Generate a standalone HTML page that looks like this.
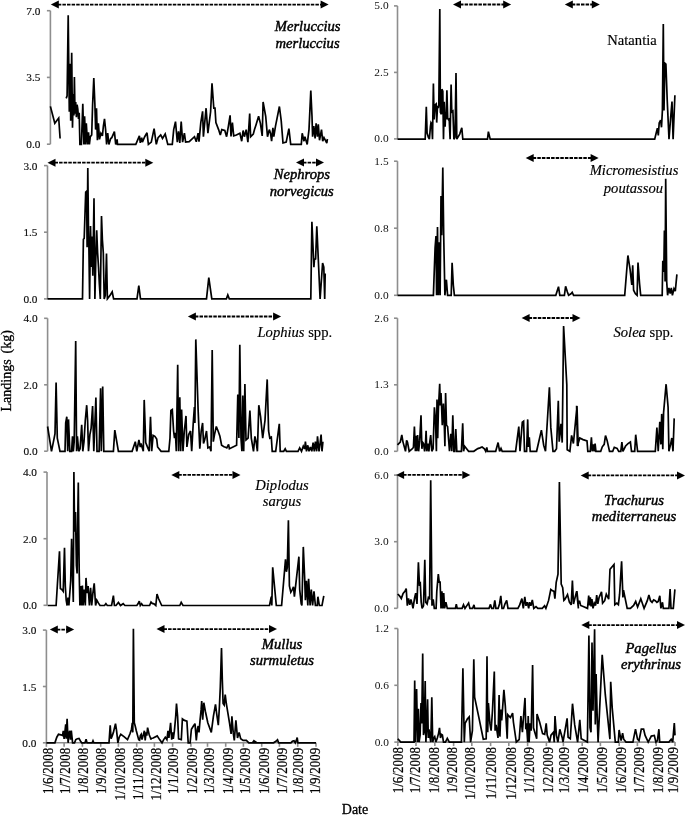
<!DOCTYPE html><html><head><meta charset="utf-8"><style>html,body{margin:0;padding:0;background:#fff;overflow:hidden}svg{display:block;will-change:transform}</style></head><body><svg width="685" height="815" viewBox="0 0 685 815">
<rect width="685" height="815" fill="#fff"/>
<g stroke="#8e8e8e" stroke-width="1.6" fill="none"><line x1="50.4" y1="10.7" x2="50.4" y2="144.2"/><line x1="46.9" y1="10.7" x2="50.4" y2="10.7"/><line x1="46.9" y1="77.4" x2="50.4" y2="77.4"/><line x1="46.9" y1="144.2" x2="50.4" y2="144.2"/><line x1="47.5" y1="165.6" x2="47.5" y2="298.9"/><line x1="44.0" y1="165.6" x2="47.5" y2="165.6"/><line x1="44.0" y1="232.2" x2="47.5" y2="232.2"/><line x1="44.0" y1="298.9" x2="47.5" y2="298.9"/><line x1="47.6" y1="318.3" x2="47.6" y2="451.2"/><line x1="44.1" y1="318.3" x2="47.6" y2="318.3"/><line x1="44.1" y1="384.8" x2="47.6" y2="384.8"/><line x1="44.1" y1="451.2" x2="47.6" y2="451.2"/><line x1="47.0" y1="472.1" x2="47.0" y2="605.3"/><line x1="43.5" y1="472.1" x2="47.0" y2="472.1"/><line x1="43.5" y1="538.7" x2="47.0" y2="538.7"/><line x1="43.5" y1="605.3" x2="47.0" y2="605.3"/><line x1="46.4" y1="630.1" x2="46.4" y2="742.8"/><line x1="42.9" y1="630.1" x2="46.4" y2="630.1"/><line x1="42.9" y1="686.5" x2="46.4" y2="686.5"/><line x1="42.9" y1="742.8" x2="46.4" y2="742.8"/><line x1="46.4" y1="742.8" x2="316.0" y2="742.8"/><line x1="46.4" y1="742.8" x2="46.4" y2="746.8"/><line x1="64.1" y1="742.8" x2="64.1" y2="746.8"/><line x1="82.4" y1="742.8" x2="82.4" y2="746.8"/><line x1="100.7" y1="742.8" x2="100.7" y2="746.8"/><line x1="118.4" y1="742.8" x2="118.4" y2="746.8"/><line x1="136.7" y1="742.8" x2="136.7" y2="746.8"/><line x1="154.4" y1="742.8" x2="154.4" y2="746.8"/><line x1="172.6" y1="742.8" x2="172.6" y2="746.8"/><line x1="190.9" y1="742.8" x2="190.9" y2="746.8"/><line x1="207.5" y1="742.8" x2="207.5" y2="746.8"/><line x1="225.7" y1="742.8" x2="225.7" y2="746.8"/><line x1="243.4" y1="742.8" x2="243.4" y2="746.8"/><line x1="261.7" y1="742.8" x2="261.7" y2="746.8"/><line x1="279.4" y1="742.8" x2="279.4" y2="746.8"/><line x1="297.7" y1="742.8" x2="297.7" y2="746.8"/><line x1="316.0" y1="742.8" x2="316.0" y2="746.8"/><line x1="397.5" y1="5.9" x2="397.5" y2="138.9"/><line x1="394.0" y1="5.9" x2="397.5" y2="5.9"/><line x1="394.0" y1="72.4" x2="397.5" y2="72.4"/><line x1="394.0" y1="138.9" x2="397.5" y2="138.9"/><line x1="397.5" y1="161.2" x2="397.5" y2="295.3"/><line x1="394.0" y1="161.2" x2="397.5" y2="161.2"/><line x1="394.0" y1="228.2" x2="397.5" y2="228.2"/><line x1="394.0" y1="295.3" x2="397.5" y2="295.3"/><line x1="397.5" y1="318.2" x2="397.5" y2="451.3"/><line x1="394.0" y1="318.2" x2="397.5" y2="318.2"/><line x1="394.0" y1="384.8" x2="397.5" y2="384.8"/><line x1="394.0" y1="451.3" x2="397.5" y2="451.3"/><line x1="397.5" y1="475.1" x2="397.5" y2="608.3"/><line x1="394.0" y1="475.1" x2="397.5" y2="475.1"/><line x1="394.0" y1="541.7" x2="397.5" y2="541.7"/><line x1="394.0" y1="608.3" x2="397.5" y2="608.3"/><line x1="397.8" y1="628.5" x2="397.8" y2="742.1"/><line x1="394.3" y1="628.5" x2="397.8" y2="628.5"/><line x1="394.3" y1="685.3" x2="397.8" y2="685.3"/><line x1="394.3" y1="742.1" x2="397.8" y2="742.1"/><line x1="397.8" y1="742.1" x2="675.0" y2="742.1"/><line x1="397.8" y1="742.1" x2="397.8" y2="746.1"/><line x1="416.0" y1="742.1" x2="416.0" y2="746.1"/><line x1="434.8" y1="742.1" x2="434.8" y2="746.1"/><line x1="453.6" y1="742.1" x2="453.6" y2="746.1"/><line x1="471.8" y1="742.1" x2="471.8" y2="746.1"/><line x1="490.6" y1="742.1" x2="490.6" y2="746.1"/><line x1="508.8" y1="742.1" x2="508.8" y2="746.1"/><line x1="527.6" y1="742.1" x2="527.6" y2="746.1"/><line x1="546.4" y1="742.1" x2="546.4" y2="746.1"/><line x1="563.4" y1="742.1" x2="563.4" y2="746.1"/><line x1="582.2" y1="742.1" x2="582.2" y2="746.1"/><line x1="600.4" y1="742.1" x2="600.4" y2="746.1"/><line x1="619.2" y1="742.1" x2="619.2" y2="746.1"/><line x1="637.4" y1="742.1" x2="637.4" y2="746.1"/><line x1="656.2" y1="742.1" x2="656.2" y2="746.1"/><line x1="675.0" y1="742.1" x2="675.0" y2="746.1"/></g>
<g font-family="Liberation Serif" font-size="12" fill="#111"><text x="40.4" y="14.7" text-anchor="end" font-size="11.3" stroke="#000" stroke-width="0.15">7.0</text><text x="40.4" y="81.4" text-anchor="end" font-size="11.3" stroke="#000" stroke-width="0.15">3.5</text><text x="40.4" y="148.2" text-anchor="end" font-size="11.3" stroke="#000" stroke-width="0.15">0.0</text><text x="37.5" y="169.6" text-anchor="end" font-size="11.3" stroke="#000" stroke-width="0.15">3.0</text><text x="37.5" y="236.2" text-anchor="end" font-size="11.3" stroke="#000" stroke-width="0.15">1.5</text><text x="37.5" y="302.9" text-anchor="end" font-size="11.3" stroke="#000" stroke-width="0.15">0.0</text><text x="37.6" y="322.3" text-anchor="end" font-size="11.3" stroke="#000" stroke-width="0.15">4.0</text><text x="37.6" y="388.8" text-anchor="end" font-size="11.3" stroke="#000" stroke-width="0.15">2.0</text><text x="37.6" y="455.2" text-anchor="end" font-size="11.3" stroke="#000" stroke-width="0.15">0.0</text><text x="37.0" y="476.1" text-anchor="end" font-size="11.3" stroke="#000" stroke-width="0.15">4.0</text><text x="37.0" y="542.7" text-anchor="end" font-size="11.3" stroke="#000" stroke-width="0.15">2.0</text><text x="37.0" y="609.3" text-anchor="end" font-size="11.3" stroke="#000" stroke-width="0.15">0.0</text><text x="36.4" y="634.1" text-anchor="end" font-size="11.3" stroke="#000" stroke-width="0.15">3.0</text><text x="36.4" y="690.5" text-anchor="end" font-size="11.3" stroke="#000" stroke-width="0.15">1.5</text><text x="36.4" y="746.8" text-anchor="end" font-size="11.3" stroke="#000" stroke-width="0.15">0.0</text><text x="388.6" y="9.4" text-anchor="end" font-size="11.4">5.0</text><text x="388.6" y="75.9" text-anchor="end" font-size="11.4">2.5</text><text x="388.6" y="142.4" text-anchor="end" font-size="11.4">0.0</text><text x="388.6" y="164.7" text-anchor="end" font-size="11.4">1.5</text><text x="388.6" y="231.8" text-anchor="end" font-size="11.4">0.8</text><text x="388.6" y="298.8" text-anchor="end" font-size="11.4">0.0</text><text x="388.6" y="321.7" text-anchor="end" font-size="11.4">2.6</text><text x="388.6" y="388.2" text-anchor="end" font-size="11.4">1.3</text><text x="388.6" y="454.8" text-anchor="end" font-size="11.4">0.0</text><text x="388.6" y="478.6" text-anchor="end" font-size="11.4">6.0</text><text x="388.6" y="545.2" text-anchor="end" font-size="11.4">3.0</text><text x="388.6" y="611.8" text-anchor="end" font-size="11.4">0.0</text><text x="388.9" y="632.0" text-anchor="end" font-size="11.4">1.2</text><text x="388.9" y="688.8" text-anchor="end" font-size="11.4">0.6</text><text x="388.9" y="745.6" text-anchor="end" font-size="11.4">0.0</text></g>
<g font-family="Liberation Serif" font-size="14" fill="#000" stroke="#000" stroke-width="0.25"><text transform="translate(52.6,747.8) rotate(-90) scale(0.93,1)" text-anchor="end">1/6/2008</text><text transform="translate(69.5,747.8) rotate(-90) scale(0.93,1)" text-anchor="end">1/7/2008</text><text transform="translate(88.4,747.8) rotate(-90) scale(0.93,1)" text-anchor="end">1/8/2008</text><text transform="translate(105.7,747.8) rotate(-90) scale(0.93,1)" text-anchor="end">1/9/2008</text><text transform="translate(124.7,747.8) rotate(-90) scale(0.93,1)" text-anchor="end">1/10/2008</text><text transform="translate(142.5,747.8) rotate(-90) scale(0.93,1)" text-anchor="end">1/11/2008</text><text transform="translate(160.5,747.8) rotate(-90) scale(0.93,1)" text-anchor="end">1/12/2008</text><text transform="translate(178.1,747.8) rotate(-90) scale(0.93,1)" text-anchor="end">1/1/2009</text><text transform="translate(197.0,747.8) rotate(-90) scale(0.93,1)" text-anchor="end">1/2/2009</text><text transform="translate(213.8,747.8) rotate(-90) scale(0.93,1)" text-anchor="end">1/3/2009</text><text transform="translate(232.5,747.8) rotate(-90) scale(0.93,1)" text-anchor="end">1/4/2009</text><text transform="translate(250.3,747.8) rotate(-90) scale(0.93,1)" text-anchor="end">1/5/2009</text><text transform="translate(268.9,747.8) rotate(-90) scale(0.93,1)" text-anchor="end">1/6/2009</text><text transform="translate(286.8,747.8) rotate(-90) scale(0.93,1)" text-anchor="end">1/7/2009</text><text transform="translate(303.1,747.8) rotate(-90) scale(0.93,1)" text-anchor="end">1/8/2009</text><text transform="translate(320.0,747.8) rotate(-90) scale(0.93,1)" text-anchor="end">1/9/2009</text><text transform="translate(402.7,747.1) rotate(-90) scale(0.93,1)" text-anchor="end">1/6/2008</text><text transform="translate(419.5,747.1) rotate(-90) scale(0.93,1)" text-anchor="end">1/7/2008</text><text transform="translate(438.9,747.1) rotate(-90) scale(0.93,1)" text-anchor="end">1/8/2008</text><text transform="translate(457.0,747.1) rotate(-90) scale(0.93,1)" text-anchor="end">1/9/2008</text><text transform="translate(474.7,747.1) rotate(-90) scale(0.93,1)" text-anchor="end">1/10/2008</text><text transform="translate(495.6,747.1) rotate(-90) scale(0.93,1)" text-anchor="end">1/11/2008</text><text transform="translate(515.6,747.1) rotate(-90) scale(0.93,1)" text-anchor="end">1/12/2008</text><text transform="translate(534.0,747.1) rotate(-90) scale(0.93,1)" text-anchor="end">1/1/2009</text><text transform="translate(553.4,747.1) rotate(-90) scale(0.93,1)" text-anchor="end">1/2/2009</text><text transform="translate(569.2,747.1) rotate(-90) scale(0.93,1)" text-anchor="end">1/3/2009</text><text transform="translate(587.8,747.1) rotate(-90) scale(0.93,1)" text-anchor="end">1/4/2009</text><text transform="translate(607.1,747.1) rotate(-90) scale(0.93,1)" text-anchor="end">1/5/2009</text><text transform="translate(626.1,747.1) rotate(-90) scale(0.93,1)" text-anchor="end">1/6/2009</text><text transform="translate(644.2,747.1) rotate(-90) scale(0.93,1)" text-anchor="end">1/7/2009</text><text transform="translate(662.6,747.1) rotate(-90) scale(0.93,1)" text-anchor="end">1/8/2009</text><text transform="translate(678.0,747.1) rotate(-90) scale(0.93,1)" text-anchor="end">1/9/2009</text></g>
<g stroke="#000" stroke-width="1.7" fill="none" stroke-linejoin="miter" stroke-miterlimit="3"><polyline points="50.4,106.4 54.8,123.3 58.7,118.0 60.1,138.5"/><polyline points="66.2,98.4 67.1,95.8 68.2,15.3 69.3,111.8 70.1,63.7 70.7,120.7 71.7,52.7 72.5,127.8 73.2,94.0 73.9,115.4 74.4,77.1 75.0,113.6 75.7,102.0 76.4,117.1 77.1,104.7 77.8,109.1 78.5,118.9 79.2,112.7 79.9,144.4 81.4,144.4 82.8,103.8 83.9,144.4 84.6,116.2 85.6,144.4 86.3,123.4 87.6,144.4 88.5,132.3 89.4,144.4 90.3,136.7 91.7,134.9 92.6,104.7 93.8,78.0 94.9,104.7 95.6,129.6 96.5,108.2 97.4,140.3 98.4,123.4 99.5,139.4 100.9,133.2 102.4,135.8 103.4,126.0 104.5,118.9 105.6,129.6 106.6,144.4 107.7,133.2 108.9,144.4 110.7,138.5 111.8,137.6 114.4,131.7 115.7,144.4 117.1,139.4 117.5,144.4 135.8,144.4 139.4,135.8 140.3,142.9 141.7,137.6 142.4,142.1 144.7,136.7 147.0,132.8 148.4,144.4 151.3,142.1 154.1,128.7 156.3,144.4 158.1,137.6 160.7,134.9 162.5,138.5 165.2,134.0 167.8,144.4 172.3,144.4 173.7,129.6 175.5,121.6 177.3,142.1 178.5,131.4 179.8,142.9 181.2,121.6 182.6,142.1 184.4,133.2 185.6,142.1 189.2,141.7 194.5,136.7 196.3,141.7 198.1,133.2 199.0,141.7 200.8,122.5 202.6,111.4 203.4,136.7 206.1,108.2 207.9,133.2 210.6,111.8 212.0,83.3 213.8,108.2 215.0,108.2 215.9,122.5 218.6,129.6 220.3,135.0 221.8,129.6 224.8,130.5 226.6,136.7 228.4,126.1 230.1,115.4 231.0,136.4 232.4,122.5 233.7,135.9 236.4,135.0 239.9,133.2 241.7,141.2 243.1,130.5 244.4,136.7 246.2,129.6 247.9,142.1 249.7,113.6 250.6,136.7 253.3,134.1 254.5,129.6 255.9,125.2 258.6,116.3 260.4,123.4 262.2,135.9 263.1,102.0 265.7,116.3 267.5,136.7 269.3,129.6 270.5,133.2 271.6,141.2 272.9,127.8 273.8,136.7 275.5,126.1 279.4,106.5 281.2,120.7 283.0,143.0 286.2,142.1 288.9,128.7 290.7,144.4 301.3,144.4 302.2,133.2 304.0,141.2 304.9,136.7 307.2,144.4 309.0,129.6 310.8,90.5 312.0,116.3 312.6,136.7 313.8,126.1 315.1,138.5 316.1,123.4 317.4,136.7 318.3,124.3 319.5,140.3 321.5,129.6 322.7,141.2 324.0,137.6 325.4,140.3 326.8,143.0 327.4,139.0"/><polyline points="47.5,298.9 82.5,298.9 83.4,239.3 84.2,238.4 85.7,192.1 86.6,191.2 87.1,247.3 87.8,168.0 88.5,231.2 88.9,247.3 89.6,298.9 90.5,225.9 91.4,266.9 92.1,236.6 92.8,275.8 94.0,198.3 94.9,298.9 95.8,259.7 96.7,230.3 97.6,252.6 98.5,266.9 99.4,284.7 100.3,298.9 101.5,216.1 102.4,240.1 103.3,252.6 104.2,298.9 105.3,295.4 106.5,253.5 107.4,298.9 108.8,297.1 110.6,294.5 112.2,291.8 113.6,298.9 137.0,298.9 138.8,285.5 140.5,298.9 206.5,298.9 208.8,277.7 211.8,298.9 226.4,298.9 227.8,294.9 229.3,298.9 310.8,298.9 311.9,221.7 313.9,267.1 314.5,259.5 315.6,259.0 316.8,226.3 320.1,298.9 322.6,263.0 323.8,267.1 324.7,298.9 325.2,273.5"/><polyline points="47.6,426.5 51.5,451.3 53.8,439.8 55.0,433.6 56.1,382.6 57.3,438.1 60.0,451.3 65.0,451.3 65.7,422.9 66.8,416.7 67.7,451.3 68.5,419.4 69.8,451.3 71.6,451.3 72.5,436.3 73.3,451.3 74.2,441.6 75.7,341.1 76.6,451.3 77.4,436.3 78.7,451.3 80.1,448.7 81.7,424.7 82.8,451.3 84.0,441.6 85.3,420.3 86.7,405.2 87.6,420.3 88.5,451.3 89.9,434.5 91.1,428.3 92.6,406.1 93.8,451.3 95.9,397.5 97.0,451.3 99.1,451.3 100.6,388.3 101.3,451.3 102.7,386.5 103.8,451.3 113.4,451.3 114.8,430.1 118.4,451.3 132.0,451.3 132.1,451.3 135.3,441.7 136.8,451.3 138.9,439.9 140.3,447.0 141.0,443.5 143.3,451.3 144.2,399.9 145.7,442.6 147.8,447.9 149.2,451.3 150.5,416.8 151.7,451.3 153.1,435.4 154.9,436.3 156.7,439.0 157.6,447.0 161.1,451.3 168.8,451.3 170.0,438.1 170.9,410.5 172.3,409.6 173.6,431.0 174.5,438.1 175.4,432.8 176.3,451.3 177.7,364.8 178.6,451.3 179.8,397.2 180.7,451.3 181.6,409.6 183.0,451.3 184.3,431.0 186.0,415.9 186.9,447.0 188.7,434.6 190.5,431.0 191.7,451.3 193.2,423.9 194.4,407.0 194.9,423.0 195.8,339.4 198.1,409.6 199.8,448.8 201.2,431.0 202.6,423.0 203.5,443.5 204.7,439.9 206.5,431.0 207.9,447.9 209.7,447.0 211.0,451.3 212.2,350.0 213.3,441.7 214.5,434.6 216.3,426.5 218.1,431.0 219.9,436.3 221.6,445.2 224.3,447.0 225.0,447.0 226.8,447.9 228.6,444.4 229.4,448.8 236.6,445.3 237.8,394.5 238.9,438.1 239.8,344.7 241.0,438.1 241.9,451.3 242.8,395.4 243.7,451.3 244.9,383.9 246.0,439.9 248.1,438.1 249.9,410.6 251.3,438.1 253.5,451.3 254.9,436.4 256.1,441.7 257.4,451.3 258.8,405.2 260.6,416.8 262.7,438.1 265.0,420.3 267.2,379.4 268.6,431.0 269.8,438.1 271.3,437.2 272.2,451.3 275.7,451.3 279.3,423.9 280.2,451.3 283.7,451.3 285.2,448.8 286.4,451.3 298.0,451.3 299.7,447.9 301.5,451.3 303.3,446.1 304.7,448.8 305.4,441.7 306.5,451.3 307.8,445.3 309.0,451.3 310.4,447.0 311.8,451.3 313.1,442.6 314.3,451.3 315.4,441.7 316.7,451.3 317.5,436.4 319.0,451.3 320.2,442.6 321.1,434.6 322.0,451.3 322.9,441.7"/><polyline points="47.6,605.5 56.1,605.5 57.3,586.0 59.5,551.3 60.4,588.6 61.8,589.5 63.2,591.3 64.5,547.7 65.3,586.0 66.2,600.2 67.1,605.5 68.0,597.5 68.9,605.5 70.7,580.6 71.6,538.8 72.5,575.3 73.3,602.0 73.9,472.1 74.6,531.7 75.5,512.1 76.4,565.5 77.1,573.5 77.8,514.8 78.3,482.4 79.2,571.7 79.9,605.5 81.0,586.0 81.7,605.5 82.4,585.6 83.1,605.5 84.2,589.5 85.3,605.5 86.0,577.9 87.0,593.1 88.1,586.0 89.4,605.5 90.6,587.7 91.7,605.5 92.9,593.1 94.2,583.3 95.6,605.5 96.8,600.2 98.3,602.9 100.0,605.5 104.5,605.5 105.9,603.7 107.3,605.5 111.6,605.5 113.4,595.7 114.4,605.5 116.0,605.5 118.4,602.5 120.5,605.5 123.2,603.7 124.9,605.5 136.8,605.5 138.0,603.8 139.3,601.1 140.3,605.5 141.6,603.8 142.8,605.5 149.6,605.5 151.0,602.0 152.2,603.4 154.0,603.8 155.8,605.5 157.0,594.0 158.5,598.5 161.7,605.5 179.8,605.5 181.2,602.4 183.0,605.5 185.2,605.5 194.9,605.5 196.7,605.5 198.5,605.5 269.5,605.5 271.3,596.7 271.8,605.5 272.7,567.3 274.8,589.6 276.3,605.5 281.6,605.5 283.7,580.7 285.5,559.3 286.4,571.8 287.3,567.3 288.4,520.2 289.4,586.0 290.8,592.2 292.3,589.6 293.5,586.9 294.4,596.7 296.2,580.7 298.9,556.7 299.7,589.6 301.2,603.8 301.9,605.5 303.3,546.9 304.7,578.9 305.4,600.3 306.5,580.7 307.8,605.5 308.6,578.9 310.1,605.5 311.3,589.6 312.6,605.5 314.0,591.4 315.4,605.5 317.2,605.5 317.9,596.7 319.3,605.5 322.0,605.5 323.8,595.8"/><polyline points="46.4,742.8 54.9,742.8 56.8,737.2 58.5,734.3 60.9,734.8 62.5,735.6 63.3,730.8 64.1,738.8 64.9,732.4 65.7,724.4 66.2,738.8 67.1,718.8 68.1,742.8 68.9,734.0 69.7,730.8 70.5,739.6 71.3,730.5 72.6,742.8 74.5,742.8 75.8,739.6 77.4,738.8 79.0,738.4 80.6,741.2 81.7,742.8 85.0,742.8 86.1,739.2 87.0,742.8 92.2,742.8 93.0,740.8 93.8,742.8 109.0,742.8 110.2,725.2 111.1,738.8 112.3,735.6 113.4,732.4 115.5,723.6 116.6,730.8 117.9,742.8 119.2,737.2 120.8,734.3 124.3,736.9 127.5,739.6 129.9,734.0 131.5,729.2 132.3,722.8 132.8,732.4 133.4,628.8 134.3,722.8 135.2,726.0 136.3,730.8 138.7,739.6 139.6,740.1 140.4,735.6 141.2,734.3 142.0,739.6 144.4,730.8 145.2,740.4 146.0,732.4 146.8,735.6 147.6,727.6 149.2,734.8 150.8,738.8 150.0,738.8 153.2,738.0 157.2,735.9 159.6,739.6 162.0,742.8 163.7,739.6 165.3,737.2 166.9,739.6 168.0,730.8 168.9,738.0 170.6,722.8 171.7,739.6 172.5,732.4 173.3,738.8 174.4,730.8 175.7,716.4 176.5,703.5 177.6,716.4 178.6,738.8 181.3,739.6 182.4,718.8 184.5,720.4 186.9,721.2 188.2,742.8 190.1,742.8 191.4,729.2 193.4,726.0 195.0,723.6 196.3,740.4 197.4,729.2 198.2,726.0 199.0,732.4 200.1,719.6 201.1,709.9 201.7,701.1 202.7,719.6 203.8,702.7 205.4,711.5 207.8,722.8 211.3,732.4 213.4,716.4 215.5,704.3 216.6,713.1 218.3,725.2 219.4,706.7 220.3,687.4 221.5,648.1 222.3,679.4 223.1,703.5 224.2,705.1 225.2,694.7 226.3,703.5 227.9,713.1 229.5,722.8 231.1,734.0 231.9,716.4 233.2,732.4 234.3,740.4 235.9,720.4 237.5,738.0 239.1,732.4 240.7,738.8 243.1,740.4 246.4,740.4 248.8,742.8 250.4,742.8 252.8,742.8 254.4,741.2 256.8,742.8 252.4,742.8 253.9,740.7 256.0,742.8 273.6,742.8 275.9,741.3 277.5,739.8 278.6,742.8 290.9,742.8 292.4,741.3 294.0,740.7 295.3,742.8 296.4,740.2 297.2,737.6 297.9,742.8 316.0,742.8"/><polyline points="397.5,139.2 424.9,139.2 425.2,139.2 426.3,106.8 427.1,133.1 428.4,137.3 429.4,139.2 430.4,126.8 431.0,122.6 431.7,123.7 432.5,139.2 433.4,83.5 434.1,119.5 435.1,104.9 436.2,103.9 436.7,122.6 437.5,105.9 438.3,108.0 438.8,104.9 439.8,8.9 440.4,112.2 441.4,114.3 441.9,89.2 442.8,91.3 443.5,139.2 444.2,101.8 445.1,126.8 445.6,114.3 446.1,119.5 446.9,90.3 447.7,118.5 448.4,119.5 449.2,119.0 450.1,139.2 451.1,84.5 451.8,112.2 452.9,111.2 453.9,139.2 455.0,137.3 456.0,73.1 456.8,139.2 459.7,134.1 461.8,127.7 462.8,139.2 487.5,139.2 488.4,131.7 490.2,139.2 492.0,139.2 654.7,139.2 656.5,131.8 657.4,128.2 658.3,135.4 659.2,122.9 660.6,120.2 661.5,127.3 662.4,110.4 663.3,24.0 664.0,110.4 664.9,63.2 665.9,64.1 667.2,99.7 669.0,139.2 670.8,115.8 672.0,101.5 673.1,139.2 674.9,95.3"/><polyline points="397.5,295.3 433.4,295.3 435.1,247.6 436.0,236.0 436.6,295.3 437.5,227.1 438.3,295.3 439.2,242.3 440.1,295.3 441.0,196.0 441.7,235.2 442.8,167.5 443.7,235.2 444.9,295.3 446.4,279.7 447.6,295.3 451.2,295.3 452.1,262.8 453.3,285.0 454.4,295.3 555.8,295.3 558.5,286.7 559.8,295.3 564.4,295.3 565.6,286.3 567.4,292.0 568.6,295.3 571.0,293.8 572.2,292.4 573.6,295.3 624.7,295.3 627.9,255.5 630.0,268.9 631.8,284.9 632.7,265.3 633.6,290.2 635.4,293.8 637.1,295.3 638.0,262.6 639.5,283.1 640.7,295.3 662.1,295.3 662.2,295.3 662.8,260.8 663.8,272.0 664.4,230.6 665.1,281.6 665.7,178.8 666.7,281.6 667.6,295.3 668.9,287.9 670.2,293.5 671.3,287.9 672.4,295.3 674.0,288.7 675.3,291.1 676.9,274.4"/><polyline points="397.5,444.9 400.3,442.0 401.8,435.0 402.9,441.6 404.5,447.5 405.5,451.3 406.6,440.3 407.5,442.3 409.2,451.3 412.1,448.8 413.4,447.5 414.4,426.5 415.4,451.3 416.0,435.7 416.7,451.3 417.6,435.0 418.6,451.3 419.7,440.9 421.0,415.3 421.9,448.8 422.6,442.3 423.6,443.6 424.6,451.3 425.5,443.6 426.1,430.7 426.8,451.3 427.8,443.6 428.9,451.3 429.8,441.6 430.7,435.0 431.8,451.3 433.1,448.8 434.4,407.4 435.5,419.9 436.4,451.3 437.0,399.6 437.7,438.3 438.4,409.4 439.7,383.8 440.3,405.5 441.0,393.0 441.6,406.8 442.3,425.2 443.4,403.5 444.3,425.2 444.9,446.2 445.6,393.0 446.5,425.2 447.6,426.5 449.5,451.3 450.8,433.7 451.8,451.3 452.8,415.3 453.9,451.3 454.8,451.3 455.8,429.1 456.8,451.3 461.4,451.3 462.7,423.2 463.6,451.3 464.6,446.2 466.6,448.8 468.6,451.3 472.5,451.3 473.8,451.3 477.8,448.6 480.0,447.9 482.1,447.0 484.4,448.8 485.7,451.3 486.8,447.4 487.5,451.3 495.7,451.3 498.1,442.6 499.6,451.3 501.0,448.4 502.2,451.3 515.6,451.3 518.8,426.5 520.0,451.3 522.3,422.1 523.6,421.2 524.5,451.3 526.6,451.3 527.7,419.4 528.4,447.0 529.3,437.2 530.2,451.3 536.6,451.3 541.4,430.1 543.7,445.2 545.5,451.3 549.4,387.4 550.8,427.4 553.0,451.3 554.7,451.3 556.5,448.8 558.3,400.7 559.2,441.7 561.0,423.9 562.2,442.6 563.6,326.0 566.8,384.7 567.2,449.7 569.9,451.3 571.6,435.4 573.4,443.5 577.0,406.1 578.2,446.1 576.6,405.8 577.4,446.0 579.8,438.0 583.0,439.6 587.0,440.9 587.8,451.3 590.3,451.3 591.4,437.2 592.3,451.3 593.5,444.4 594.3,451.3 595.1,443.6 595.9,451.3 600.7,451.3 602.3,446.8 604.2,444.4 605.5,435.6 607.1,440.4 609.5,451.3 612.7,451.3 614.3,447.3 617.1,448.4 618.7,451.3 620.8,451.3 621.9,442.0 622.9,451.3 625.6,446.0 628.0,443.6 630.4,442.0 631.5,451.3 634.7,451.3 635.7,434.7 637.6,451.3 655.3,451.3 656.9,427.5 658.2,451.3 659.8,421.9 660.9,444.4 661.7,413.9 662.8,449.2 663.6,412.3 666.1,384.2 668.1,407.4 668.9,451.3 670.6,444.4 671.8,438.0 673.0,451.3 674.2,418.4"/><polyline points="397.7,594.0 399.5,595.8 401.3,598.5 403.1,593.4 404.9,591.3 406.2,588.6 407.3,605.7 408.5,598.5 409.8,604.8 410.9,599.4 412.1,603.9 413.0,608.4 414.5,598.5 415.7,593.1 417.0,603.9 418.4,562.4 419.4,584.0 420.3,583.1 421.2,602.1 422.1,608.4 423.5,605.7 424.8,559.7 425.7,602.1 427.1,603.9 428.4,597.6 429.6,598.5 430.7,480.3 432.0,605.7 433.2,599.4 434.3,608.4 436.1,608.4 436.8,591.3 438.3,574.1 439.2,582.2 440.1,582.2 441.0,608.4 441.9,591.3 442.8,608.4 443.7,593.1 444.6,608.4 445.9,602.1 447.3,608.4 455.4,608.4 456.3,604.2 457.2,608.4 462.1,608.4 463.5,604.8 465.0,608.4 466.2,606.6 468.6,603.0 469.9,608.4 472.6,608.4 474.0,604.8 474.7,608.4 489.0,608.4 490.5,604.4 491.7,608.4 493.5,608.4 494.8,600.4 495.9,608.4 498.1,608.4 499.5,604.0 500.8,595.9 502.0,608.4 503.5,608.4 504.9,604.0 506.7,600.4 508.0,608.4 517.9,608.4 519.7,604.9 521.9,598.6 523.3,608.4 524.8,596.8 526.0,605.8 527.3,602.2 528.7,608.4 529.6,602.2 530.9,605.8 532.3,600.0 533.8,608.4 536.0,606.7 537.8,608.4 539.9,608.4 542.3,608.4 544.6,605.8 545.9,608.4 548.6,600.4 550.8,589.5 552.2,590.5 554.0,591.4 554.9,598.6 556.2,582.3 558.0,574.2 559.4,482.1 561.2,584.1 562.7,587.7 563.9,600.4 564.8,599.5 566.3,596.8 567.5,594.6 569.4,602.2 571.2,604.9 572.4,580.5 573.5,604.0 574.8,598.6 576.6,591.4 578.4,608.4 576.9,591.0 578.2,603.9 579.5,600.7 580.6,605.5 583.8,606.8 587.5,608.4 588.7,595.5 589.5,605.5 590.3,597.4 591.1,606.3 591.9,599.1 593.0,608.4 594.3,603.1 595.6,605.5 596.7,595.0 597.8,603.9 599.1,597.4 601.5,591.8 602.6,603.1 604.7,600.7 606.3,594.2 608.7,599.1 610.0,569.3 614.0,564.5 614.8,604.7 616.8,603.1 618.4,604.7 619.6,594.2 621.6,561.3 622.9,597.4 623.5,590.2 624.8,596.6 627.2,608.4 630.4,608.4 633.6,605.5 635.7,601.5 637.6,607.1 640.8,598.7 644.1,608.4 647.3,600.7 648.9,595.0 650.5,600.7 652.1,602.3 653.7,599.9 655.3,600.7 656.9,602.3 658.2,601.5 659.8,595.8 660.9,608.4 662.5,602.3 663.3,608.4 668.9,608.4 670.1,589.1 671.0,608.4 673.3,608.4 674.9,589.4"/><polyline points="397.8,738.8 400.8,742.1 414.0,742.1 414.7,680.4 415.4,742.1 416.6,689.1 417.6,742.1 418.4,708.8 419.1,742.1 420.1,735.1 421.0,703.0 421.7,723.4 422.7,653.4 423.5,735.1 424.2,732.2 425.2,681.1 425.9,742.1 426.8,724.9 427.6,699.3 428.3,738.0 429.0,729.3 429.7,735.1 430.8,742.1 431.8,697.2 432.7,742.1 433.7,738.0 434.7,736.6 435.9,742.1 437.3,738.0 438.5,733.6 439.5,727.8 440.5,738.0 441.4,734.4 442.4,735.1 443.5,742.1 445.4,742.1 447.3,738.3 449.3,742.1 461.4,742.1 462.9,668.2 464.3,742.1 465.1,723.4 467.3,719.1 469.2,716.9 470.6,742.1 472.4,730.7 473.8,659.2 474.6,697.2 478.9,717.6 483.3,739.2 486.2,738.8 487.0,656.3 487.7,732.2 488.4,703.0 489.9,723.4 491.1,730.7 492.5,710.3 494.3,671.6 495.1,730.7 496.1,724.9 498.0,738.0 499.1,695.0 499.9,736.6 500.9,709.6 501.7,720.5 503.9,689.9 505.3,705.9 507.2,738.8 507.8,714.7 510.4,717.6 512.6,713.2 513.4,722.0 516.3,742.1 519.2,739.5 520.9,716.1 522.4,732.2 523.9,711.8 525.0,697.9 525.8,729.3 526.5,723.4 527.7,742.1 528.2,716.1 529.1,742.1 530.1,723.4 531.2,730.7 532.6,665.0 533.5,727.8 536.7,738.8 537.0,713.9 539.6,722.0 542.6,733.6 544.7,734.4 546.2,723.4 547.2,735.1 549.6,742.1 551.0,735.1 553.5,732.2 554.2,742.1 555.0,716.1 556.4,735.1 557.9,742.1 559.8,729.3 562.3,738.0 563.0,742.1 567.1,718.3 568.1,737.3 570.3,738.8 572.5,703.7 574.7,724.9 577.6,742.1 579.8,719.8 581.2,738.8 587.4,742.1 588.9,635.4 590.0,727.7 591.0,732.3 592.0,642.6 593.0,710.8 594.6,629.3 595.3,724.6 596.1,674.0 597.2,717.0 598.1,742.1 602.2,654.9 605.3,694.7 609.9,739.2 610.7,681.7 612.2,707.8 615.3,742.1 618.3,742.1 619.1,730.0 621.1,740.7 622.6,733.1 623.7,739.2 626.0,742.1 632.9,742.1 635.5,729.2 637.5,739.2 639.0,740.7 641.3,729.2 643.6,729.2 645.1,735.4 648.2,742.1 651.3,736.1 654.3,735.4 655.9,742.1 657.4,740.7 658.9,729.2 659.7,742.1 668.9,742.1 671.2,739.2 672.7,742.1 674.3,723.1 675.0,735.4"/></g>
<g><line x1="57.8" y1="4.6" x2="321.6" y2="4.6" stroke="#000" stroke-width="1.8" stroke-dasharray="3.5,1.1"/><path d="M50.8,4.6 L58.8,0.5999999999999996 L58.8,8.6 Z" fill="#000"/><path d="M328.6,4.6 L320.6,0.5999999999999996 L320.6,8.6 Z" fill="#000"/><line x1="54.5" y1="162.7" x2="146.3" y2="162.7" stroke="#000" stroke-width="1.8" stroke-dasharray="3.5,1.1"/><path d="M47.5,162.7 L55.5,158.7 L55.5,166.7 Z" fill="#000"/><path d="M153.3,162.7 L145.3,158.7 L145.3,166.7 Z" fill="#000"/><line x1="303.0" y1="162.6" x2="317.0" y2="162.6" stroke="#000" stroke-width="1.8" stroke-dasharray="3.5,1.1"/><path d="M296.0,162.6 L304.0,158.6 L304.0,166.6 Z" fill="#000"/><path d="M324.0,162.6 L316.0,158.6 L316.0,166.6 Z" fill="#000"/><line x1="194.9" y1="316.5" x2="274.1" y2="316.5" stroke="#000" stroke-width="1.8" stroke-dasharray="3.5,1.1"/><path d="M187.9,316.5 L195.9,312.5 L195.9,320.5 Z" fill="#000"/><path d="M281.1,316.5 L273.1,312.5 L273.1,320.5 Z" fill="#000"/><line x1="178.3" y1="474.9" x2="233.5" y2="474.9" stroke="#000" stroke-width="1.8" stroke-dasharray="3.5,1.1"/><path d="M171.3,474.9 L179.3,470.9 L179.3,478.9 Z" fill="#000"/><path d="M240.5,474.9 L232.5,470.9 L232.5,478.9 Z" fill="#000"/><line x1="56.8" y1="629.6" x2="67.2" y2="629.6" stroke="#000" stroke-width="1.8" stroke-dasharray="3.5,1.1"/><path d="M49.8,629.6 L57.8,625.6 L57.8,633.6 Z" fill="#000"/><path d="M74.2,629.6 L66.2,625.6 L66.2,633.6 Z" fill="#000"/><line x1="163.5" y1="629.1" x2="270.0" y2="629.1" stroke="#000" stroke-width="1.8" stroke-dasharray="3.5,1.1"/><path d="M156.5,629.1 L164.5,625.1 L164.5,633.1 Z" fill="#000"/><path d="M277.0,629.1 L269.0,625.1 L269.0,633.1 Z" fill="#000"/><line x1="460.0" y1="4.5" x2="504.2" y2="4.5" stroke="#000" stroke-width="1.8" stroke-dasharray="3.5,1.1"/><path d="M453.0,4.5 L461.0,0.5 L461.0,8.5 Z" fill="#000"/><path d="M511.2,4.5 L503.2,0.5 L503.2,8.5 Z" fill="#000"/><line x1="571.8" y1="4.5" x2="592.8" y2="4.5" stroke="#000" stroke-width="1.8" stroke-dasharray="3.5,1.1"/><path d="M564.8,4.5 L572.8,0.5 L572.8,8.5 Z" fill="#000"/><path d="M599.8,4.5 L591.8,0.5 L591.8,8.5 Z" fill="#000"/><line x1="532.7" y1="158.0" x2="591.6" y2="158.0" stroke="#000" stroke-width="1.8" stroke-dasharray="3.5,1.1"/><path d="M525.7,158.0 L533.7,154.0 L533.7,162.0 Z" fill="#000"/><path d="M598.6,158.0 L590.6,154.0 L590.6,162.0 Z" fill="#000"/><line x1="528.6" y1="318.0" x2="573.5" y2="318.0" stroke="#000" stroke-width="1.8" stroke-dasharray="3.5,1.1"/><path d="M521.6,318.0 L529.6,314.0 L529.6,322.0 Z" fill="#000"/><path d="M580.5,318.0 L572.5,314.0 L572.5,322.0 Z" fill="#000"/><line x1="403.1" y1="474.9" x2="463.3" y2="474.9" stroke="#000" stroke-width="1.8" stroke-dasharray="3.5,1.1"/><path d="M396.1,474.9 L404.1,470.9 L404.1,478.9 Z" fill="#000"/><path d="M470.3,474.9 L462.3,470.9 L462.3,478.9 Z" fill="#000"/><line x1="587.7" y1="475.4" x2="678.0" y2="475.4" stroke="#000" stroke-width="1.8" stroke-dasharray="3.5,1.1"/><path d="M580.7,475.4 L588.7,471.4 L588.7,479.4 Z" fill="#000"/><path d="M685.0,475.4 L677.0,471.4 L677.0,479.4 Z" fill="#000"/><line x1="588.3" y1="625.1" x2="678.0" y2="625.1" stroke="#000" stroke-width="1.8" stroke-dasharray="3.5,1.1"/><path d="M581.3,625.1 L589.3,621.1 L589.3,629.1 Z" fill="#000"/><path d="M685.0,625.1 L677.0,621.1 L677.0,629.1 Z" fill="#000"/></g>
<g font-family="Liberation Serif" font-size="14.6" fill="#000" stroke="#000" stroke-width="0.15"><text x="307.6" y="30.7" text-anchor="middle"><tspan font-style="italic" font-size="14.6" stroke="#000" stroke-width="0.45">Merluccius</tspan></text><text x="307.6" y="47.8" text-anchor="middle"><tspan font-style="italic" font-size="14.6" stroke="#000" stroke-width="0.45">merluccius</tspan></text><text x="301.8" y="179.4" text-anchor="middle"><tspan font-style="italic" font-size="14.6" stroke="#000" stroke-width="0.45">Nephrops</tspan></text><text x="301.8" y="196.0" text-anchor="middle"><tspan font-style="italic" font-size="14.6" stroke="#000" stroke-width="0.45">norvegicus</tspan></text><text x="294.8" y="337.0" text-anchor="middle"><tspan font-style="italic">Lophius</tspan> spp.</text><text x="282.0" y="489.7" text-anchor="middle"><tspan font-style="italic">Diplodus</tspan></text><text x="282.0" y="505.9" text-anchor="middle"><tspan font-style="italic">sargus</tspan></text><text x="282.0" y="648.5" text-anchor="middle"><tspan font-style="italic" font-size="14.6" stroke="#000" stroke-width="0.45">Mullus</tspan></text><text x="282.0" y="665.0" text-anchor="middle"><tspan font-style="italic" font-size="14.6" stroke="#000" stroke-width="0.45">surmuletus</tspan></text><text x="632.0" y="45.0" text-anchor="middle">Natantia</text><text x="634.0" y="175.2" text-anchor="middle"><tspan font-style="italic">Micromesistius</tspan></text><text x="633.4" y="192.6" text-anchor="middle"><tspan font-style="italic">poutassou</tspan></text><text x="643.5" y="336.9" text-anchor="middle"><tspan font-style="italic">Solea</tspan> spp.</text><text x="634.0" y="504.6" text-anchor="middle"><tspan font-style="italic" font-size="14.6" stroke="#000" stroke-width="0.45">Trachurus</tspan></text><text x="634.0" y="520.8" text-anchor="middle"><tspan font-style="italic" font-size="14.6" stroke="#000" stroke-width="0.45">mediterraneus</tspan></text><text x="651.0" y="653.3" text-anchor="middle"><tspan font-style="italic" font-size="14.6" stroke="#000" stroke-width="0.45">Pagellus</tspan></text><text x="651.0" y="668.6" text-anchor="middle"><tspan font-style="italic" font-size="14.6" stroke="#000" stroke-width="0.45">erythrinus</tspan></text></g>
<text transform="translate(10.6,370.8) rotate(-90)" text-anchor="middle" font-family="Liberation Serif" font-size="14" word-spacing="2.5" fill="#000" stroke="#000" stroke-width="0.3">Landings (kg)</text>
<text x="355" y="813.6" text-anchor="middle" font-family="Liberation Serif" font-size="14" fill="#000" stroke="#000" stroke-width="0.3">Date</text>
</svg></body></html>
